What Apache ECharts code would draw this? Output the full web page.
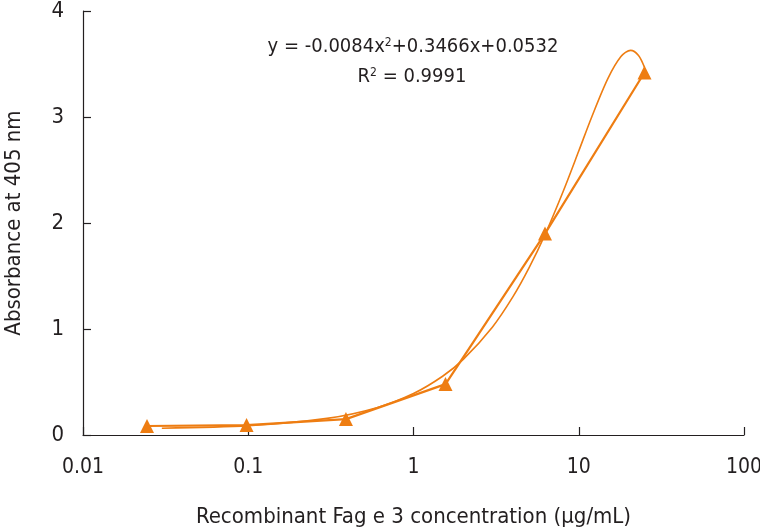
<!DOCTYPE html>
<html>
<head>
<meta charset="utf-8">
<script src="https://cdn.jsdelivr.net/npm/echarts@6/dist/echarts.min.js"></script>
<style>html,body{margin:0;padding:0;background:#fff}#c{width:760px;height:530px}</style>
</head>
<body>
<div id="c"></div>
<script>
// Measured points (concentration µg/mL, absorbance)
var concentrations = [0.0244, 0.0977, 0.39, 1.5625, 6.25, 25];
var absorbance = [0.085, 0.094, 0.15, 0.48, 1.90, 3.42];
// Trendline
var trendX = [0.03, 0.1, 0.3, 0.6, 1, 1.5, 2, 3, 4, 5, 6.25, 8, 10, 12, 15, 18, 20.6, 23, 25];
var trendY = [0.064, 0.088, 0.157, 0.258, 0.391, 0.554, 0.713, 1.017, 1.305, 1.576, 1.891, 2.288, 2.679, 3.003, 3.362, 3.570, 3.629, 3.581, 3.468];
var yTicks = [0, 1, 2, 3, 4];
var xTicks = [0.01, 0.1, 1, 10, 100];
var equationText = ['y = -0.0084x', '2', '+0.3466x+0.0532'];
var r2Text = ['R', '2', ' = 0.9991'];

var FONT = '"Liberation Sans Narrow", "DejaVu Sans Condensed", "Roboto", sans-serif';
var ORANGE = '#EE7D12';
var TXT = '#231f20';
var chart = echarts.init(document.getElementById('c'), null, {renderer: 'canvas'});
chart.setOption({
  animation: false,
  backgroundColor: '#fff',
  grid: {left: 83, right: 16, top: 11, bottom: 95, containLabel: false, outerBoundsMode: 'none'},
  xAxis: {
    type: 'log', logBase: 10, min: xTicks[0], max: xTicks[xTicks.length - 1],
    name: 'Recombinant Fag e 3 concentration (\u03bcg/mL)',
    nameLocation: 'middle', nameGap: 71,
    nameTextStyle: {fontFamily: FONT, fontSize: 22, color: TXT},
    axisLine: {lineStyle: {color: TXT, width: 1.2}},
    axisTick: {inside: true, length: 8, lineStyle: {color: TXT, width: 1.2}},
    minorTick: {show: false},
    splitLine: {show: false},
    axisLabel: {fontFamily: FONT, fontSize: 21, color: TXT, margin: 22,
      formatter: function (v) { return String(+v.toPrecision(6)); }}
  },
  yAxis: {
    type: 'value', min: yTicks[0], max: yTicks[yTicks.length - 1], interval: 1,
    name: 'Absorbance at 405 nm',
    nameLocation: 'middle', nameGap: 58,
    nameTextStyle: {fontFamily: FONT, fontSize: 22, color: TXT},
    axisLine: {show: true, lineStyle: {color: TXT, width: 1.2}},
    axisTick: {show: true, inside: true, length: 8, lineStyle: {color: TXT, width: 1.2}},
    splitLine: {show: false},
    axisLabel: {fontFamily: FONT, fontSize: 22, color: TXT, margin: 19}
  },
  series: [
    {
      type: 'line',
      data: trendX.map(function (x, i) { return [x, trendY[i]]; }),
      showSymbol: false, symbol: 'none', smooth: 0.3,
      lineStyle: {color: ORANGE, width: 1.6},
      z: 2
    },
    {
      type: 'line',
      data: concentrations.map(function (x, i) { return [x, absorbance[i]]; }),
      symbol: 'triangle', symbolSize: 14,
      itemStyle: {color: ORANGE},
      lineStyle: {color: ORANGE, width: 2.2},
      z: 3
    }
  ],
  graphic: [
    {
      type: 'text', x: 413, y: 47,
      style: {
        text: '{a|' + equationText[0] + '}{s|' + equationText[1] + '}{a|' + equationText[2] + '}',
        align: 'center', verticalAlign: 'middle',
        rich: {
          a: {fontFamily: FONT, fontSize: 20, fill: TXT},
          s: {fontFamily: FONT, fontSize: 12, fill: TXT, verticalAlign: 'top', padding: [0, 0, 9, 0]}
        }
      }
    },
    {
      type: 'text', x: 412, y: 77,
      style: {
        text: '{a|' + r2Text[0] + '}{s|' + r2Text[1] + '}{a|' + r2Text[2] + '}',
        align: 'center', verticalAlign: 'middle',
        rich: {
          a: {fontFamily: FONT, fontSize: 20, fill: TXT},
          s: {fontFamily: FONT, fontSize: 12, fill: TXT, verticalAlign: 'top', padding: [0, 0, 9, 0]}
        }
      }
    }
  ]
});
</script>
</body>
</html>
